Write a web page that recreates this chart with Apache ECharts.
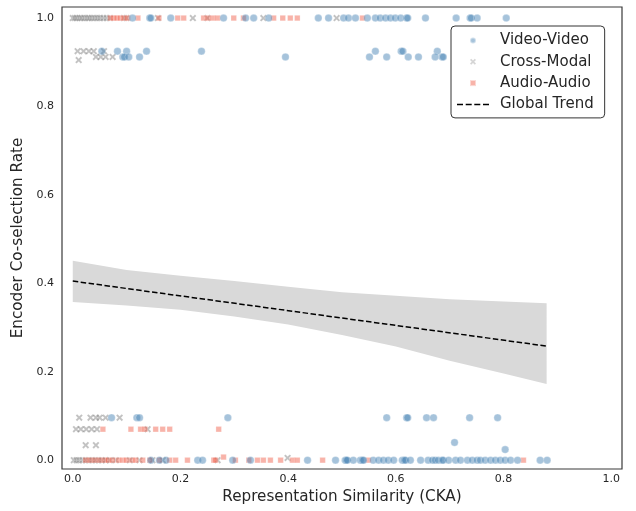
<!DOCTYPE html>
<html>
<head>
<meta charset="utf-8">
<script src="https://cdn.jsdelivr.net/npm/echarts@6/dist/echarts.min.js"></script>
<style>
html,body{margin:0;padding:0;background:#fff;}
#chart{width:636px;height:511px;}
</style>
</head>
<body>
<div id="chart"></div>
<script>
// ---- data ----
const xTicks = [0.0, 0.2, 0.4, 0.6, 0.8, 1.0];
const yTicks = [0.0, 0.2, 0.4, 0.6, 0.8, 1.0];

const videoPoints = [
  // top row
  [0.111,1.0],[0.143,1.0],[0.145,1.0],[0.182,1.0],[0.280,1.0],[0.321,1.0],[0.336,1.0],[0.364,1.0],
  [0.456,1.0],[0.475,1.0],[0.503,1.0],[0.512,1.0],[0.525,1.0],[0.547,1.0],[0.562,1.0],[0.571,1.0],
  [0.581,1.0],[0.590,1.0],[0.599,1.0],[0.609,1.0],[0.620,1.0],[0.622,1.0],[0.655,1.0],[0.712,1.0],
  [0.738,1.0],[0.740,1.0],[0.751,1.0],[0.805,1.0],
  // ~0.92 rows
  [0.054,0.925],[0.083,0.925],[0.100,0.925],[0.137,0.925],[0.239,0.925],[0.562,0.925],[0.610,0.925],
  [0.613,0.925],[0.677,0.925],
  [0.093,0.912],[0.096,0.912],[0.104,0.912],[0.124,0.912],[0.395,0.912],[0.551,0.912],[0.583,0.912],
  [0.623,0.912],[0.642,0.912],[0.673,0.912],[0.686,0.912],[0.688,0.912],
  // low rows
  [0.072,0.096],[0.119,0.096],[0.124,0.096],[0.288,0.096],[0.583,0.096],[0.620,0.096],[0.622,0.096],
  [0.657,0.096],[0.670,0.096],[0.737,0.096],[0.789,0.096],
  [0.709,0.040],[0.803,0.024],
  // zero row
  [0.145,0.0],[0.161,0.0],[0.173,0.0],[0.232,0.0],[0.241,0.0],[0.297,0.0],[0.330,0.0],[0.436,0.0],
  [0.488,0.0],[0.506,0.0],[0.508,0.0],[0.510,0.0],[0.521,0.0],[0.534,0.0],[0.538,0.0],[0.540,0.0],
  [0.558,0.0],[0.568,0.0],[0.577,0.0],[0.586,0.0],[0.596,0.0],[0.612,0.0],[0.616,0.0],[0.618,0.0],
  [0.627,0.0],[0.646,0.0],[0.660,0.0],[0.668,0.0],[0.673,0.0],[0.679,0.0],[0.686,0.0],[0.688,0.0],
  [0.698,0.0],[0.711,0.0],[0.720,0.0],[0.733,0.0],[0.742,0.0],[0.751,0.0],[0.757,0.0],[0.766,0.0],
  [0.776,0.0],[0.785,0.0],[0.794,0.0],[0.803,0.0],[0.813,0.0],[0.826,0.0],[0.868,0.0],[0.881,0.0]
];

const crossPoints = [
  [0.000,1.0],[0.004,1.0],[0.008,1.0],[0.013,1.0],[0.017,1.0],[0.022,1.0],[0.027,1.0],[0.031,1.0],
  [0.036,1.0],[0.041,1.0],[0.046,1.0],[0.051,1.0],[0.057,1.0],[0.063,1.0],[0.069,1.0],[0.095,1.0],
  [0.100,1.0],[0.158,1.0],[0.223,1.0],[0.250,1.0],[0.354,1.0],[0.490,1.0],
  [0.009,0.925],[0.020,0.925],[0.030,0.925],[0.039,0.925],[0.058,0.925],
  [0.011,0.905],[0.043,0.912],[0.052,0.912],[0.061,0.912],[0.074,0.912],
  [0.012,0.096],[0.033,0.096],[0.043,0.096],[0.050,0.096],[0.061,0.096],[0.087,0.096],
  [0.006,0.070],[0.015,0.070],[0.025,0.070],[0.035,0.070],[0.045,0.070],[0.139,0.070],
  [0.024,0.034],[0.043,0.034],
  [0.002,0.0],[0.007,0.0],[0.012,0.0],[0.018,0.0],[0.024,0.0],[0.030,0.0],[0.036,0.0],[0.042,0.0],
  [0.048,0.0],[0.054,0.0],[0.061,0.0],[0.069,0.0],[0.080,0.0],[0.106,0.0],[0.124,0.0],[0.148,0.0],
  [0.167,0.0],[0.269,0.0],[0.399,0.005]
];

const audioPoints = [
  [0.070,1.0],[0.076,1.0],[0.082,1.0],[0.088,1.0],[0.095,1.0],[0.102,1.0],[0.121,1.0],[0.160,1.0],
  [0.195,1.0],[0.206,1.0],[0.243,1.0],[0.251,1.0],[0.260,1.0],[0.269,1.0],[0.299,1.0],[0.317,1.0],
  [0.373,1.0],[0.390,1.0],[0.404,1.0],[0.417,1.0],[0.538,1.0],
  [0.056,0.070],[0.108,0.070],[0.126,0.070],[0.134,0.070],[0.154,0.070],[0.167,0.070],[0.180,0.070],
  [0.271,0.070],
  [0.024,0.0],[0.032,0.0],[0.041,0.0],[0.050,0.0],[0.059,0.0],[0.066,0.0],[0.074,0.0],[0.085,0.0],
  [0.093,0.0],[0.100,0.0],[0.110,0.0],[0.117,0.0],[0.130,0.0],[0.143,0.0],[0.161,0.0],[0.180,0.0],
  [0.191,0.0],[0.213,0.0],[0.262,0.0],[0.265,0.0],[0.280,0.007],[0.302,0.0],[0.327,0.0],[0.343,0.0],
  [0.354,0.0],[0.367,0.0],[0.386,0.0],[0.408,0.0],[0.417,0.0],[0.464,0.0],[0.549,0.0],[0.837,0.0]
];

const trendLine = [[0.0, 0.405], [0.88, 0.258]];
const bandX     = [0.0,   0.1,   0.2,   0.3,   0.4,   0.5,   0.6,   0.7,   0.8,   0.88];
const bandUpper = [0.451, 0.430, 0.417, 0.405, 0.392, 0.380, 0.372, 0.364, 0.359, 0.355];
const bandLower = [0.358, 0.350, 0.340, 0.325, 0.307, 0.283, 0.257, 0.225, 0.196, 0.172];

// ---- chart ----
const FONT = 'DejaVu Sans';
const TXT = '#262626';
const xPath = 'path://M0,2 L2,0 L5,3 L8,0 L10,2 L7,5 L10,8 L8,10 L5,7 L2,10 L0,8 L3,5 Z';
const squarePath = 'path://M0,0 L10,0 L10,10 L0,10 Z';
const dashPath = 'path://M0,0 L6,0 L6,1.5 L0,1.5 Z M8.7,0 L14.7,0 L14.7,1.5 L8.7,1.5 Z M17.3,0 L23.3,0 L23.3,1.5 L17.3,1.5 Z M26,0 L32,0 L32,1.5 L26,1.5 Z';

const chart = echarts.init(document.getElementById('chart'), null, {renderer: 'canvas'});

const option = {
  animation: false,
  backgroundColor: '#ffffff',
  textStyle: {fontFamily: FONT, color: TXT},
  grid: {left: 62, right: 14, top: 7, bottom: 42, show: true, borderColor: '#3a3a3a', borderWidth: 1.2, backgroundColor: 'transparent'},
  xAxis: {
    type: 'value', min: -0.02, max: 1.02,
    name: 'Representation Similarity (CKA)', nameLocation: 'middle', nameGap: 21,
    nameTextStyle: {fontFamily: FONT, fontSize: 15.2, color: TXT},
    axisLine: {show: false}, axisTick: {show: false}, splitLine: {show: false},
    axisLabel: {customValues: xTicks, formatter: v => v.toFixed(1), fontFamily: FONT, fontSize: 11, color: TXT, margin: 5}
  },
  yAxis: {
    type: 'value', min: -0.02, max: 1.025,
    name: 'Encoder Co-selection Rate', nameLocation: 'middle', nameGap: 35,
    nameTextStyle: {fontFamily: FONT, fontSize: 15.2, color: TXT},
    axisLine: {show: false}, axisTick: {show: false}, splitLine: {show: false},
    axisLabel: {customValues: yTicks, formatter: v => v.toFixed(1), fontFamily: FONT, fontSize: 11, color: TXT, margin: 8}
  },
  legend: {
    orient: 'vertical', left: 451, top: 26,
    padding: [7, 11, 6, 6], itemGap: 6.3, itemWidth: 32, itemHeight: 6,
    borderColor: '#333', borderWidth: 1, borderRadius: 4, backgroundColor: '#fff',
    textStyle: {fontFamily: FONT, fontSize: 15, color: TXT, padding: [0, 0, 0, 6]},
    data: [
      {name: 'Video-Video', icon: 'circle'},
      {name: 'Cross-Modal', icon: xPath},
      {name: 'Audio-Audio', icon: squarePath},
      {name: 'Global Trend', icon: dashPath}
    ]
  },
  series: [
    {
      name: 'CI', type: 'custom', z: 1, silent: true,
      data: [[0, 0]],
      renderItem: function (params, api) {
        const pts = [];
        for (let i = 0; i < bandX.length; i++) pts.push(api.coord([bandX[i], bandUpper[i]]));
        for (let i = bandX.length - 1; i >= 0; i--) pts.push(api.coord([bandX[i], bandLower[i]]));
        return {type: 'polygon', shape: {points: pts}, style: {fill: '#d9d9d9', stroke: 'none'}};
      }
    },
    {
      name: 'Cross-Modal', type: 'scatter', z: 3, data: crossPoints, symbol: xPath, symbolSize: 7,
      itemStyle: {color: 'rgba(128,128,128,0.6)', borderColor: 'rgba(255,255,255,0.4)', borderWidth: 0.3}
    },
    {
      name: 'Audio-Audio', type: 'scatter', z: 3, data: audioPoints, symbol: 'rect', symbolSize: 5.5,
      itemStyle: {color: 'rgba(240,96,76,0.6)', borderColor: 'rgba(255,255,255,0.6)', borderWidth: 0.5}
    },
    {
      name: 'Video-Video', type: 'scatter', z: 3, data: videoPoints, symbol: 'circle', symbolSize: 7.5,
      itemStyle: {color: 'rgba(70,130,180,0.6)', borderColor: 'rgba(255,255,255,0.6)', borderWidth: 0.6}
    },
    {
      name: 'Global Trend', type: 'line', z: 4, data: trendLine, symbol: 'none',
      lineStyle: {color: '#000', width: 1.5, type: [5.5, 2.5]},
      itemStyle: {color: '#000'}
    }
  ]
};
chart.setOption(option);
</script>
</body>
</html>
